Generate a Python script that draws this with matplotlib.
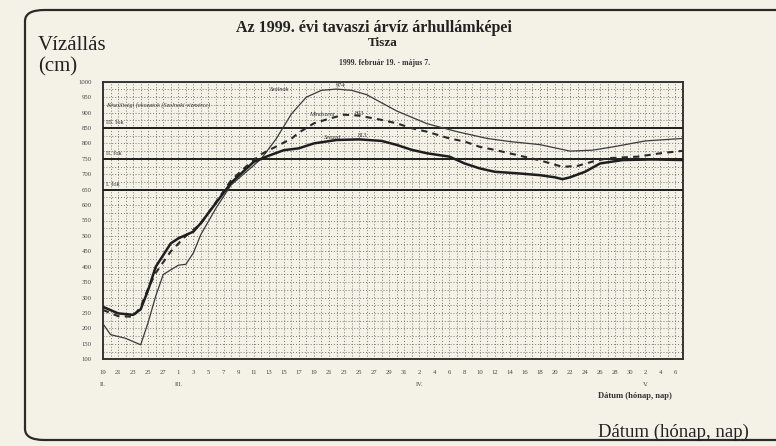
import matplotlib
matplotlib.use("Agg")
import matplotlib.pyplot as plt
from matplotlib.patches import FancyBboxPatch

# ---- data (day index: 0 = 1999-02-19) ----
szolnok_days = [0, 1, 3, 5, 6, 7, 8, 10, 11, 12, 13, 15, 17, 21, 23, 25, 27, 29, 31, 33, 35,
                39, 43, 47, 51, 54, 58, 62, 65, 68, 72, 77]
szolnok_cm = [215, 180, 168, 147, 220, 305, 375, 405, 408, 445, 505, 590, 665, 750, 815, 895,
              950, 972, 976, 972, 958, 905, 864, 838, 816, 806, 796, 775, 778, 790, 808, 816]

mindszent_days = [0, 2, 4, 5, 6, 7, 9, 11, 13, 15, 17, 19, 21, 23, 25, 26, 28, 30, 32, 34, 37,
                  39, 41, 43, 46, 48, 50, 52, 55, 58, 61, 63, 65, 67, 71, 74, 77]
mindszent_cm = [260, 240, 238, 270, 330, 380, 450, 500, 540, 610, 680, 725, 765, 790, 815, 835,
                865, 880, 893, 890, 876, 865, 849, 838, 816, 806, 789, 779, 762, 745, 724, 727,
                741, 752, 757, 768, 776]

szeged_days = [0, 2, 4, 5, 6, 7, 9, 10, 12, 13, 17, 20, 22, 24, 26, 28, 31, 34, 37, 39, 41, 43,
               46, 48, 50, 52, 55, 58, 60, 61, 62, 64, 66, 69, 73, 77]
szeged_cm = [270, 249, 244, 262, 325, 400, 476, 492, 514, 542, 672, 740, 760, 778, 784, 800,
             811, 813, 808, 795, 779, 768, 757, 735, 719, 708, 703, 697, 690, 684, 690, 708,
             735, 746, 748, 746]

alert_levels = [850, 750, 650]
alert_labels = ["III. fok", "II. fok", "I. fok"]

tick_days = list(range(0, 78, 2))
tick_labels = ["19", "21", "23", "25", "27",
               "1", "3", "5", "7", "9", "11", "13", "15", "17", "19", "21", "23", "25", "27", "29", "31",
               "2", "4", "6", "8", "10", "12", "14", "16", "18", "20", "22", "24", "26", "28", "30",
               "2", "4", "6"]
month_days = [0, 10, 42, 72]
month_labels = ["II.", "III.", "IV.", "V."]

y_ticks = list(range(100, 1001, 50))

# ---- figure ----
bg = "#f4f1e7"
fig = plt.figure(figsize=(7.76, 4.46), dpi=100, facecolor=bg)
serif = ["Liberation Serif", "DejaVu Serif"]

frame = FancyBboxPatch((25 / 776, 6 / 446), 800 / 776, 430 / 446,
                       boxstyle="round,pad=0,rounding_size=0.025",
                       transform=fig.transFigure, fill=False, edgecolor="#2a2a2a",
                       linewidth=1.6, clip_on=False)
fig.patches.append(frame)

ax = fig.add_axes([103 / 776, 86.7 / 446, 580 / 776, 277.6 / 446])
ax.set_facecolor(bg)
ax.set_xlim(0, 77)
ax.set_ylim(100, 1000)

# dotted grid
for d in range(0, 78):
    ax.axvline(d, color="#7a7a7a", lw=0.7, ls=(0, (1, 2)), zorder=1)
for v in range(100, 1001, 25):
    ax.axhline(v, color="#7a7a7a", lw=0.7, ls=(0, (1, 2)), zorder=1)

for sp in ax.spines.values():
    sp.set_linestyle((0, (1, 1)))
    sp.set_linewidth(1.4)
    sp.set_color("#333333")

# alert levels
for lvl, lab in zip(alert_levels, alert_labels):
    ax.axhline(lvl, color="#1e1e1e", lw=1.4, zorder=3)
    ax.text(0.4, lvl + 8, lab, fontsize=4.5, family=serif, color="#333333",
            ha="left", va="bottom", zorder=4)

ax.text(0.4, 925, "Készültségi fokozatok (Szolnoki vízmérce)", fontsize=4.5,
        family=serif, style="italic", color="#333333", ha="left", va="center", zorder=4)

# hydrographs
ax.plot(szolnok_days, szolnok_cm, color="#3a3a3a", lw=0.9, zorder=5)
ax.plot(mindszent_days, mindszent_cm, color="#2a2a2a", lw=1.5, ls=(0, (3, 2.5)), zorder=5)
ax.plot(szeged_days, szeged_cm, color="#1e1e1e", lw=1.8, zorder=5)

ax.text(23.5, 965, "Szolnok", fontsize=4.5, family=serif, style="italic", color="#333333",
        ha="center", va="bottom", zorder=6)
ax.text(31.5, 980, "974", fontsize=4.5, family=serif, color="#333333",
        ha="center", va="bottom", zorder=6)
ax.text(29, 885, "Mindszent", fontsize=4.5, family=serif, style="italic", color="#333333",
        ha="center", va="bottom", zorder=6)
ax.text(34, 890, "893", fontsize=4.5, family=serif, color="#333333",
        ha="center", va="bottom", zorder=6)
ax.text(30.5, 812, "Szeged", fontsize=4.5, family=serif, style="italic", color="#333333",
        ha="center", va="bottom", zorder=6)
ax.text(34.5, 818, "813", fontsize=4.5, family=serif, color="#333333",
        ha="center", va="bottom", zorder=6)

# ticks
ax.set_yticks(y_ticks)
ax.set_yticklabels([str(v) for v in y_ticks], fontsize=4.8, family=serif, color="#444444")
ax.set_xticks(tick_days)
ax.set_xticklabels(tick_labels, fontsize=4.8, family=serif, color="#444444")
ax.tick_params(length=0, pad=8)
for d, m in zip(month_days, month_labels):
    ax.text(d, -0.089, m, transform=ax.get_xaxis_transform(), fontsize=4.8,
            family=serif, color="#444444", ha="center", va="center")

# titles and captions
fig.text(374 / 776, 1 - 28 / 446, "Az 1999. évi tavaszi árvíz árhullámképei",
         fontsize=11.5, family=serif, weight="bold", color="#222222", ha="center", va="center")
fig.text(383 / 776, 1 - 43 / 446, "Tisza", fontsize=9.5, family=serif, weight="bold",
         color="#222222", ha="center", va="center")
fig.text(385 / 776, 1 - 63 / 446, "1999. február 19. - május 7.", fontsize=5.6,
         family=serif, weight="bold", color="#333333", ha="center", va="center")
fig.text(38 / 776, 1 - 46 / 446, "Vízállás", fontsize=15, family=serif,
         color="#222222", ha="left", va="center")
fig.text(38 / 776, 1 - 67 / 446, "(cm)", fontsize=15, family=serif,
         color="#222222", ha="left", va="center")
fig.text(635 / 776, 1 - 396 / 446, "Dátum (hónap, nap)", fontsize=6.2, family=serif,
         weight="bold", color="#333333", ha="center", va="center")
fig.text(673 / 776, 1 - 432 / 446, "Dátum (hónap, nap)", fontsize=13.5, family=serif,
         color="#222222", ha="center", va="center")

fig.savefig("out.png", dpi=100, facecolor=bg)
